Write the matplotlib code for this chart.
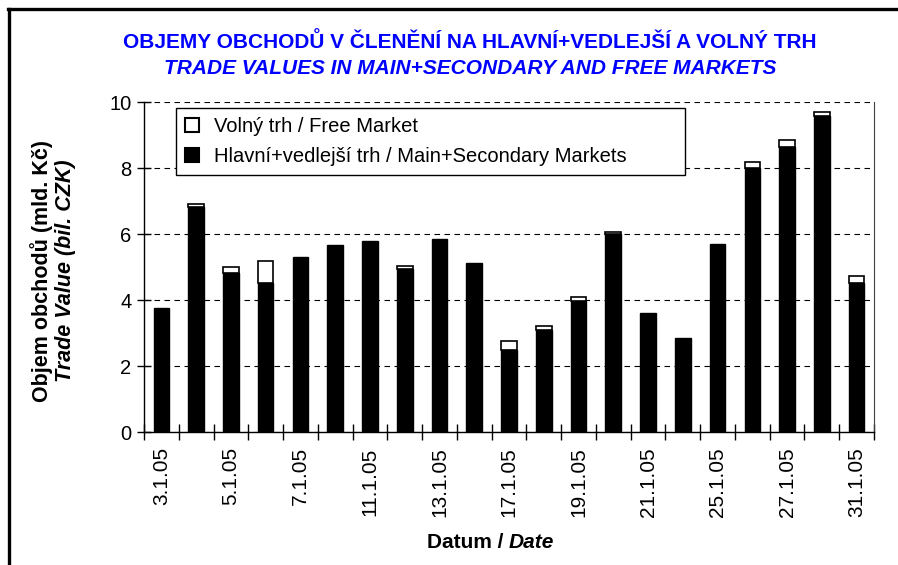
import matplotlib
matplotlib.use("Agg")
import matplotlib.pyplot as plt
import numpy as np
from matplotlib.patches import Patch
from matplotlib.lines import Line2D

plt.rcParams['font.family'] = ['Liberation Sans', 'DejaVu Sans']

# trading days of January 2005
dates = ['3.1.05', '4.1.05', '5.1.05', '6.1.05', '7.1.05', '10.1.05', '11.1.05',
         '12.1.05', '13.1.05', '14.1.05', '17.1.05', '18.1.05', '19.1.05', '20.1.05',
         '21.1.05', '24.1.05', '25.1.05', '26.1.05', '27.1.05', '28.1.05', '31.1.05']
# main+secondary markets (bil. CZK)
main_vals = [3.75, 6.82, 4.83, 4.53, 5.31, 5.68, 5.79, 4.95, 5.85, 5.11, 2.47,
             3.10, 3.98, 6.00, 3.62, 2.84, 5.69, 8.00, 8.65, 9.57, 4.53]
# free market (bil. CZK)
free_vals = [0.0, 0.10, 0.17, 0.66, 0.0, 0.0, 0.0, 0.09, 0.0, 0.0, 0.30,
             0.10, 0.12, 0.05, 0.0, 0.0, 0.0, 0.18, 0.19, 0.14, 0.21]

W, H = 898, 565
fig = plt.figure(figsize=(W / 100, H / 100), dpi=100)
ax = fig.add_axes([144 / W, 1 - 432 / H, 730 / W, 330 / H])

x = np.arange(len(dates))
main_arr = np.array(main_vals)
free_arr = np.array(free_vals)
ax.bar(x, main_arr, width=0.45, color='black', edgecolor='black', linewidth=1.0, zorder=3)
m = free_arr > 0
ax.bar(x[m], free_arr[m], bottom=main_arr[m], width=0.45, color='white',
       edgecolor='black', linewidth=1.2, zorder=3)

ax.set_xlim(-0.5, len(dates) - 0.5)
ax.set_ylim(0, 10)
ax.set_yticks(np.arange(0, 11, 2))
ax.yaxis.grid(True, linestyle=(0, (5, 4)), color='black', linewidth=0.8, zorder=0)
ax.set_axisbelow(True)

# ticks at category boundaries, labels on every other category
ax.set_xticks(np.arange(-0.5, len(dates), 1.0))
ax.set_xticklabels([])
ax.set_xticks(x[::2], minor=True)
ax.set_xticklabels(dates[::2], minor=True, rotation=90, fontsize=15)
ax.tick_params(axis='x', which='major', direction='inout', length=12, width=1)
ax.tick_params(axis='x', which='minor', length=0, pad=11)
ax.tick_params(axis='y', direction='inout', length=10, width=1, labelsize=14.5, pad=4)

ax.spines['top'].set_visible(False)
ax.spines['right'].set_color('#404040')
ax.spines['right'].set_linewidth(0.8)
for s in ['left', 'bottom']:
    ax.spines[s].set_linewidth(1.0)

handles = [Patch(facecolor='white', edgecolor='black', linewidth=1.5),
           Patch(facecolor='black', edgecolor='black', linewidth=1.5)]
leg = ax.legend(handles, ['Volný trh / Free Market',
                          'Hlavní+vedlejší trh / Main+Secondary Markets'],
                loc='upper left', bbox_to_anchor=(0.044, 0.773, 0.697, 0.209),
                mode='expand', borderaxespad=0,
                fontsize=14.5, handlelength=0.7, handleheight=0.7,
                handletextpad=0.75, labelspacing=0.55, borderpad=0.45,
                fancybox=False, framealpha=1, edgecolor='black')
leg.get_frame().set_linewidth(1.0)
leg.set_zorder(5)

# title
fig.text(470 / W, 1 - 42 / H, 'OBJEMY OBCHODŮ V ČLENĚNÍ NA HLAVNÍ+VEDLEJŠÍ A VOLNÝ TRH',
         ha='center', va='center', fontsize=15, fontweight='bold', color='#0000ff')
fig.text(470 / W, 1 - 68 / H, 'TRADE VALUES IN MAIN+SECONDARY AND FREE MARKETS',
         ha='center', va='center', fontsize=15, fontweight='bold', style='italic',
         color='#0000ff')

# y label
fig.text(42 / W, 1 - 271 / H, 'Objem obchodů (mld. Kč)', rotation=90,
         ha='center', va='center', fontsize=15.5, fontweight='bold')
fig.text(65 / W, 1 - 271 / H, 'Trade Value (bil. CZK)', rotation=90,
         ha='center', va='center', fontsize=15.5, fontweight='bold', style='italic')

# x label
fig.text(509 / W, 1 - 543 / H, 'Datum / ', ha='right', va='center',
         fontsize=15, fontweight='bold')
fig.text(509 / W, 1 - 543 / H, 'Date', ha='left', va='center',
         fontsize=15, fontweight='bold', style='italic')

# outer frame (top and left only, as in the source)
fig.add_artist(Line2D([8 / W, 1], [1 - 8.5 / H, 1 - 8.5 / H], color='black', linewidth=2.4,
                      transform=fig.transFigure))
fig.add_artist(Line2D([8.5 / W, 8.5 / W], [0, 1 - 8.5 / H], color='black', linewidth=2.4,
                      transform=fig.transFigure))

fig.savefig('out.png', dpi=100)
